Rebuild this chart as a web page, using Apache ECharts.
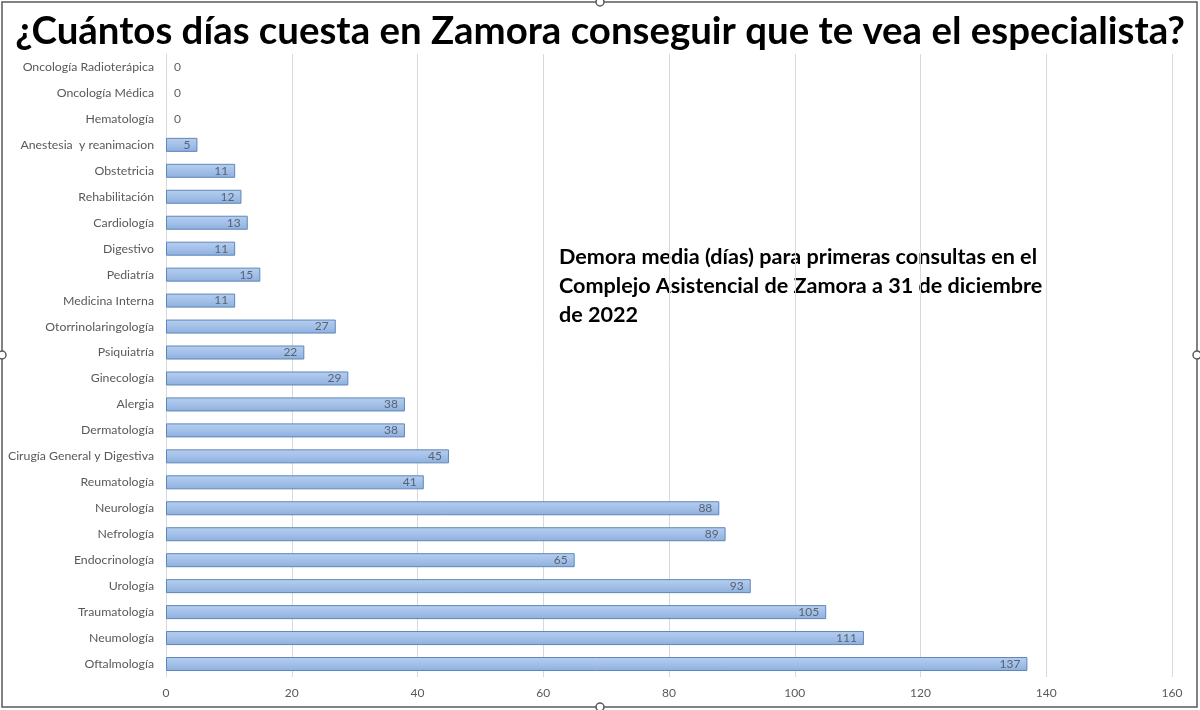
<!DOCTYPE html>
<html>
<head>
<meta charset="utf-8">
<script src="https://cdn.jsdelivr.net/npm/echarts@6/dist/echarts.min.js"></script>
<style>
html,body{margin:0;padding:0;background:#fff;}
#chart{width:1200px;height:710px;}
</style>
</head>
<body>
<div id="chart"></div>
<script>
var titleText = '¿Cuántos días cuesta en Zamora conseguir que te vea el especialista?';
var noteLines = ['Demora media (días) para primeras consultas en el', 'Complejo Asistencial de Zamora a 31 de diciembre', 'de 2022'];
var categories = ['Oncología Radioterápica','Oncología Médica','Hematología','Anestesia  y reanimacion','Obstetricia','Rehabilitación','Cardiología','Digestivo','Pediatría','Medicina Interna','Otorrinolaringología','Psiquiatría','Ginecología','Alergia','Dermatología','Cirugía General y Digestiva','Reumatología','Neurología','Nefrología','Endocrinología','Urología','Traumatología','Neumología','Oftalmología'];
var values = [0,0,0,5,11,12,13,11,15,11,27,22,29,38,38,45,41,88,89,65,93,105,111,137];
var xTicks = [0,20,40,60,80,100,120,140,160];

var chart = echarts.init(document.getElementById('chart'), null, {renderer:'canvas'});
var FONT = 'Lato';
var data = values.map(function(v){
  return v === 0 ? {value:v, itemStyle:{borderWidth:0}, label:{position:'right', distance:8}} : v;
});
chart.setOption({
  animation:false,
  backgroundColor:'#ffffff',
  title:{
    text:titleText, left:'center', top:8,
    textStyle:{fontFamily:FONT, fontWeight:'bold', fontSize:38.4, color:'#000'}
  },
  grid:{left:166, right:28, top:54, bottom:33, containLabel:false},
  xAxis:{
    type:'value', min:xTicks[0], max:xTicks[xTicks.length-1], interval:20,
    axisLine:{show:false}, axisTick:{show:false},
    splitLine:{show:true, lineStyle:{color:'#d9d9d9', width:1}},
    axisLabel:{color:'#595959', fontFamily:FONT, fontSize:12, margin:10}
  },
  yAxis:{
    type:'category', data:categories, inverse:true,
    axisLine:{show:true, lineStyle:{color:'#d9d9d9'}}, axisTick:{show:false},
    axisLabel:{color:'#595959', fontFamily:FONT, fontSize:12.3, margin:12}
  },
  series:[{
    type:'bar', data:data, barWidth:'54%',
    itemStyle:{
      color:new echarts.graphic.LinearGradient(0,0,0,1,[{offset:0,color:'#b5cff0'},{offset:0.5,color:'#a3c0e8'},{offset:1,color:'#8db0de'}]),
      borderColor:'#5f86b8', borderWidth:1
    },
    label:{show:true, position:'insideRight', distance:7, color:'#5a6270', fontFamily:FONT, fontSize:12}
  }],
  graphic:[
    {type:'text', left:559, top:243, style:{text:noteLines.join('\n'), fontFamily:FONT, fontWeight:'bold', fontSize:21.6, lineHeight:29, fill:'#000'}},
    {type:'rect', shape:{x:2, y:2, width:1195, height:705}, style:{fill:null, stroke:'#595959', lineWidth:1.5}, silent:true},
    {type:'circle', shape:{cx:2, cy:355, r:4}, style:{fill:'#fff', stroke:'#595959', lineWidth:1.5}},
    {type:'circle', shape:{cx:1197, cy:355, r:4}, style:{fill:'#fff', stroke:'#595959', lineWidth:1.5}},
    {type:'circle', shape:{cx:600, cy:2, r:4}, style:{fill:'#fff', stroke:'#595959', lineWidth:1.5}},
    {type:'circle', shape:{cx:600, cy:707, r:4}, style:{fill:'#fff', stroke:'#595959', lineWidth:1.5}}
  ]
});
</script>
</body>
</html>
